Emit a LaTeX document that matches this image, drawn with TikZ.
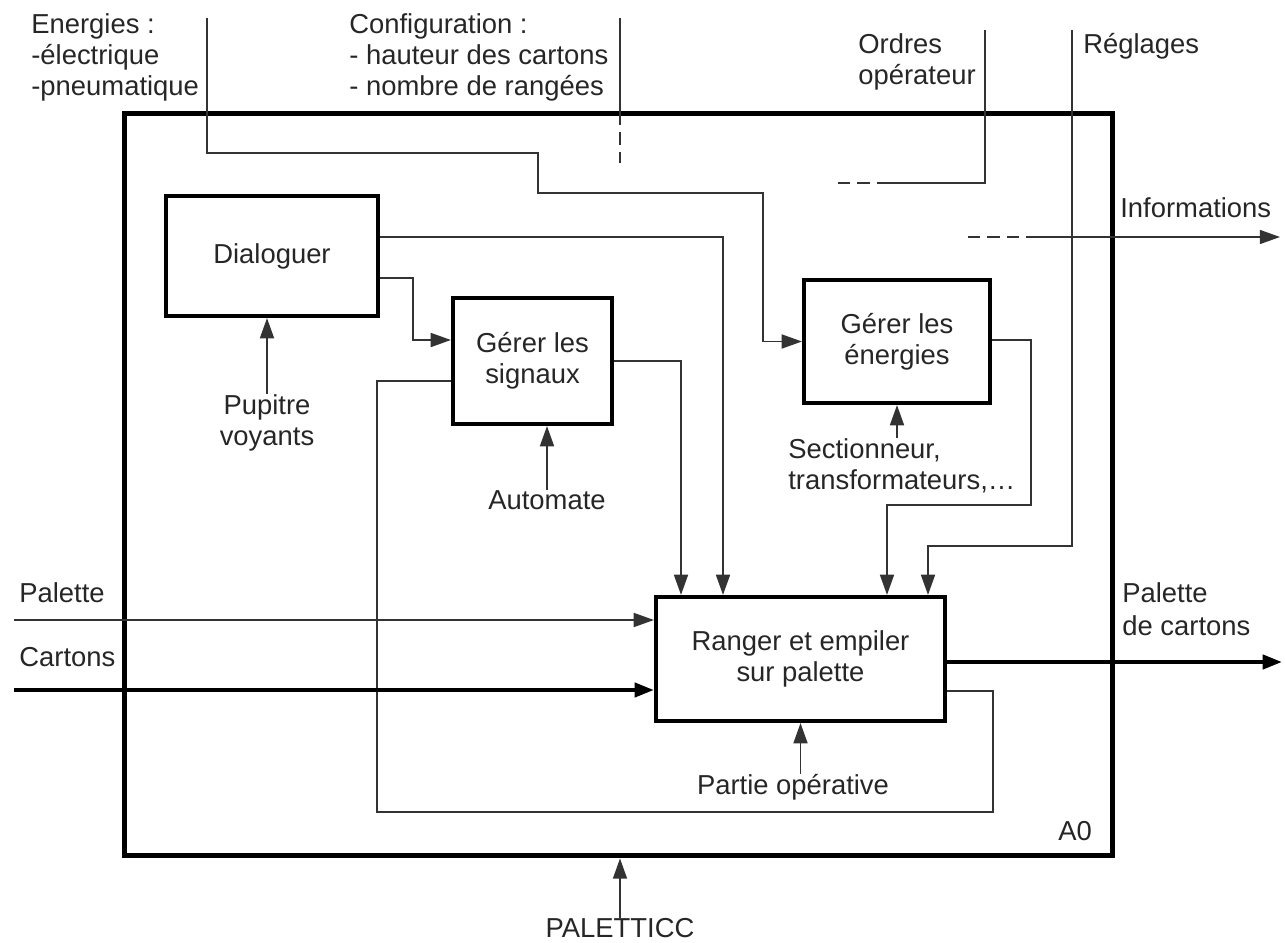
\documentclass[tikz,border=0pt]{standalone}
\usepackage{fontspec}
\setmainfont{Liberation Sans}
\usetikzlibrary{arrows.meta}
\begin{document}
\begin{tikzpicture}[x=0.02cm,y=-0.02cm,
  every node/.style={font=\fontsize{15.6}{17.6}\selectfont, text=black!85},
  fnbox/.style={draw, line width=2.4pt, align=center, inner sep=0pt},
  frame/.style={draw, line width=2.9pt, inner sep=0pt},
  lbl/.style={inner sep=0pt, align=left},
  conn/.style={line width=0.85pt, draw=black!80},
  arr/.style={conn, -{Triangle[length=11.5pt,width=8pt]}},
  bigarr/.style={line width=2.3pt, -{Triangle[length=11pt,width=8pt]}},
  dsh/.style={conn, dash pattern=on 7pt off 4pt}]
\useasboundingbox (0,0) rectangle (1285,943);

% frame and function boxes
\node[frame, minimum width=19.78cm, minimum height=14.86cm] (frame) at (618.5,484.5) {};
\node[fnbox, minimum width=4.24cm, minimum height=2.4cm] (dlg) at (272,256) {Dialoguer};
\node[fnbox, minimum width=3.18cm, minimum height=2.52cm] (sig) at (532.5,361) {Gérer les\\signaux};
\node[fnbox, minimum width=3.72cm, minimum height=2.46cm] (ene) at (897,341.5) {Gérer les\\énergies};
\node[fnbox, minimum width=5.78cm, minimum height=2.48cm] (rng) at (800.5,659) {Ranger et empiler\\sur palette};

% top labels
\node[lbl, anchor=base west] (lenA) at (31,33) {Energies :};
\node[lbl, anchor=base west] (lenB) at (31,64) {-électrique};
\node[lbl, anchor=base west] (lenC) at (31,95) {-pneumatique};
\node[lbl, anchor=base west] (lcfA) at (349,33) {Configuration :};
\node[lbl, anchor=base west] (lcfB) at (349,64) {- hauteur des cartons};
\node[lbl, anchor=base west] (lcfC) at (349,95) {- nombre de rangées};
\node[lbl, anchor=base west] (lordA) at (858,53) {Ordres};
\node[lbl, anchor=base west] (lordB) at (858,84) {opérateur};
\node[lbl, anchor=base west] (lreg) at (1083,53) {Réglages};
\node[lbl, anchor=base west] (linf) at (1120,217) {Informations};
\node[lbl, anchor=base west] (lpal) at (19,602) {Palette};
\node[lbl, anchor=base west] (lcar) at (19,666) {Cartons};
\node[lbl, anchor=base west] (loutA) at (1122,602) {Palette};
\node[lbl, anchor=base west] (loutB) at (1122,635) {de cartons};
\node[lbl, anchor=base west] (la0) at (1058,840) {A0};

% mechanism labels
\node[lbl, align=center, anchor=north] (pup) at (267,394) {Pupitre\\voyants};
\node[lbl, anchor=north] (aut) at (547,490) {Automate};
\node[lbl, anchor=north west] (sec) at (788,438) {Sectionneur,\\transformateurs,\dots};
\node[lbl, anchor=north] (par) at (793,774) {Partie opérative};
\node[lbl, anchor=north] (plt) at (620,918) {PALETTICC};

% coordinates for free ends
\coordinate (enTop) at (207,18);
\coordinate (cfTop) at (620,18);
\coordinate (cfMid) at (620,113);
\coordinate (cfEnd) at (620,163);
\coordinate (orTop) at (985,30);
\coordinate (orMid) at (889,183);
\coordinate (orEnd) at (836,183);
\coordinate (rgTop) at (1072,30);
\coordinate (infA) at (968,237);
\coordinate (infB) at (1032,237);
\coordinate (infC) at (1280,237);
\coordinate (palIn) at (14,620);
\coordinate (carIn) at (14,690);
\coordinate (outEnd) at (1282,662);

% energies
\draw[arr] (enTop) |- (538,153) -- (538,193) -- (763,193) |- (ene.west);
% configuration
\draw[conn] (cfTop) -- (cfMid);
\draw[dsh] (cfMid) -- (cfEnd);
% ordres operateur
\draw[conn] (orTop) |- (orMid);
\draw[dsh] (orMid) -- (orEnd);
% reglages
\draw[arr] (rgTop) -- (1072,546) -- (928,546) -- (rng.north -| 928,0);
% informations
\draw[dsh] (infA) -- (infB);
\draw[arr] (infB) -- (infC);
% dialoguer outputs
\draw[arr] (dlg.east |- 0,237) -- (723,237) -- (rng.north -| 723,0);
\draw[arr] (dlg.east |- 0,278) -- (413,278) |- (sig.west |- 0,340);
% signaux output
\draw[arr] (sig.east |- 0,361) -- (681,361) -- (rng.north -| 681,0);
% feedback loop
\draw[conn] (rng.east |- 0,691) -- (993,691) -- (993,812) -- (377,812) -- (377,381) -- (sig.west |- 0,381);
% energies output
\draw[arr] (ene.east |- 0,340) -- (1031,340) -- (1031,505) -- (887,505) -- (rng.north -| 887,0);
% mechanisms
\draw[arr] (pup.north) -- (pup.north |- dlg.south);
\draw[arr] (aut.north) -- (aut.north |- sig.south);
\draw[arr] (sec.north -| ene.south) -- (ene.south);
\draw[arr] (par.north -| rng.south) -- (rng.south);
\draw[arr] (plt.north) -- (plt.north |- frame.south);
% inputs / output
\draw[arr] (palIn) -- (rng.west |- palIn);
\draw[bigarr] (carIn) -- (rng.west |- carIn);
\draw[bigarr] (rng.east |- outEnd) -- (outEnd);
\end{tikzpicture}
\end{document}
